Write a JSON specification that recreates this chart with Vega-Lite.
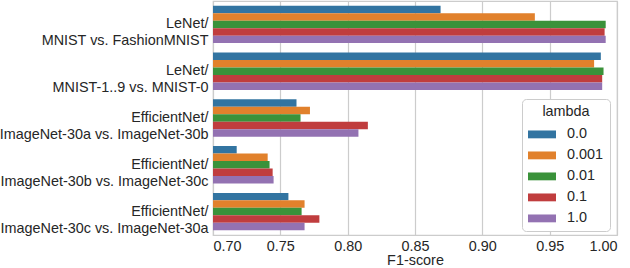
{
  "$schema": "https://vega.github.io/schema/vega-lite/v6.json",
  "autosize": {"type": "none"},
  "padding": {"left": 213, "top": 1, "right": 13, "bottom": 33},
  "width": 404,
  "height": 234,
  "background": "white",
  "config": {
    "font": "Liberation Sans",
    "view": {"stroke": "#cccccc", "strokeWidth": 1.2},
    "axis": {"labelColor": "#262626", "titleColor": "#262626", "labelFontSize": 14.4, "titleFontSize": 14.4, "titleFontWeight": "normal"},
    "legend": {"labelColor": "#262626", "titleColor": "#262626"}
  },
  "data": {
    "values": [
      {"task": "LeNet/ MNIST vs. FashionMNIST", "lambda": "0.0", "f1": 0.869},
      {"task": "LeNet/ MNIST vs. FashionMNIST", "lambda": "0.001", "f1": 0.939},
      {"task": "LeNet/ MNIST vs. FashionMNIST", "lambda": "0.01", "f1": 0.9916},
      {"task": "LeNet/ MNIST vs. FashionMNIST", "lambda": "0.1", "f1": 0.9908},
      {"task": "LeNet/ MNIST vs. FashionMNIST", "lambda": "1.0", "f1": 0.9916},
      {"task": "LeNet/ MNIST-1..9 vs. MNIST-0", "lambda": "0.0", "f1": 0.988},
      {"task": "LeNet/ MNIST-1..9 vs. MNIST-0", "lambda": "0.001", "f1": 0.983},
      {"task": "LeNet/ MNIST-1..9 vs. MNIST-0", "lambda": "0.01", "f1": 0.990},
      {"task": "LeNet/ MNIST-1..9 vs. MNIST-0", "lambda": "0.1", "f1": 0.989},
      {"task": "LeNet/ MNIST-1..9 vs. MNIST-0", "lambda": "1.0", "f1": 0.989},
      {"task": "EfficientNet/ ImageNet-30a vs. ImageNet-30b", "lambda": "0.0", "f1": 0.762},
      {"task": "EfficientNet/ ImageNet-30a vs. ImageNet-30b", "lambda": "0.001", "f1": 0.772},
      {"task": "EfficientNet/ ImageNet-30a vs. ImageNet-30b", "lambda": "0.01", "f1": 0.765},
      {"task": "EfficientNet/ ImageNet-30a vs. ImageNet-30b", "lambda": "0.1", "f1": 0.815},
      {"task": "EfficientNet/ ImageNet-30a vs. ImageNet-30b", "lambda": "1.0", "f1": 0.808},
      {"task": "EfficientNet/ ImageNet-30b vs. ImageNet-30c", "lambda": "0.0", "f1": 0.7176},
      {"task": "EfficientNet/ ImageNet-30b vs. ImageNet-30c", "lambda": "0.001", "f1": 0.7406},
      {"task": "EfficientNet/ ImageNet-30b vs. ImageNet-30c", "lambda": "0.01", "f1": 0.742},
      {"task": "EfficientNet/ ImageNet-30b vs. ImageNet-30c", "lambda": "0.1", "f1": 0.7443},
      {"task": "EfficientNet/ ImageNet-30b vs. ImageNet-30c", "lambda": "1.0", "f1": 0.745},
      {"task": "EfficientNet/ ImageNet-30c vs. ImageNet-30a", "lambda": "0.0", "f1": 0.756},
      {"task": "EfficientNet/ ImageNet-30c vs. ImageNet-30a", "lambda": "0.001", "f1": 0.768},
      {"task": "EfficientNet/ ImageNet-30c vs. ImageNet-30a", "lambda": "0.01", "f1": 0.7658},
      {"task": "EfficientNet/ ImageNet-30c vs. ImageNet-30a", "lambda": "0.1", "f1": 0.779},
      {"task": "EfficientNet/ ImageNet-30c vs. ImageNet-30a", "lambda": "1.0", "f1": 0.768}
    ]
  },
  "mark": {"type": "bar", "clip": true},
  "encoding": {
    "y": {
      "field": "task", "type": "nominal", "sort": null,
      "scale": {"paddingInner": 0.2, "paddingOuter": 0.1},
      "axis": {
        "title": null, "ticks": false, "domain": false, "labelPadding": 5,
        "labelLineHeight": 17, "labelLimit": 220,
        "labelExpr": "[substring(datum.value, 0, indexof(datum.value, '/') + 1), substring(datum.value, indexof(datum.value, '/') + 2)]"
      }
    },
    "yOffset": {"field": "lambda", "type": "nominal", "sort": null, "scale": {"paddingInner": 0, "paddingOuter": 0}},
    "x": {
      "field": "f1", "type": "quantitative",
      "scale": {"domain": [0.7, 1.0], "zero": false, "nice": false},
      "axis": {
        "title": "F1-score", "values": [0.7, 0.75, 0.8, 0.85, 0.9, 0.95, 1.0], "format": ".2f",
        "ticks": false, "domain": false, "labelPadding": 4, "titlePadding": 1,
        "gridColor": "#cccccc", "gridWidth": 1.2
      }
    },
    "color": {
      "field": "lambda", "type": "nominal", "sort": null,
      "scale": {"range": ["#3274a1", "#e1812c", "#3a923a", "#c03d3e", "#9372b2"]},
      "legend": {
        "title": "lambda", "orient": "none", "legendX": 309, "legendY": 98,
        "titleAnchor": "middle", "titleFontSize": 14.4, "titleFontWeight": "normal", "titlePadding": 1,
        "labelFontSize": 14.4, "symbolType": "M-1,-0.28H1V0.28H-1Z", "symbolSize": 784,
        "symbolStrokeWidth": 0, "labelOffset": 11, "rowPadding": 0, "columnPadding": 0,
        "padding": 6, "strokeColor": "#cccccc", "fillColor": "white", "cornerRadius": 4
      }
    }
  }
}
